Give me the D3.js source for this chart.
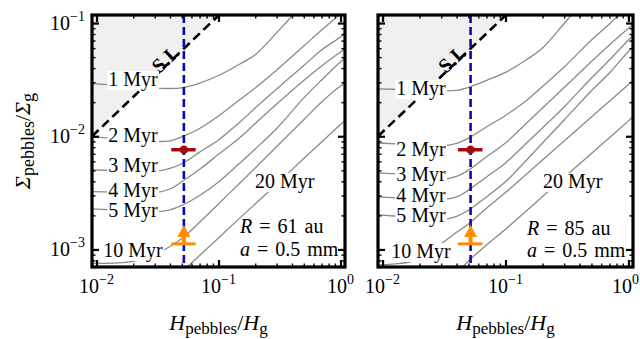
<!DOCTYPE html>
<html>
<head>
<meta charset="utf-8">
<script src="https://cdn.jsdelivr.net/npm/d3@7"></script>
<style>
  body { margin: 0; background: #fff; }
  text { font-family: "Liberation Serif", "Times New Roman", serif; fill: #000; }
</style>
</head>
<body>
<svg id="chart" width="640" height="339"></svg>
<script>
// Pebble scale-height ratio sampled along each contour
const hGrid = [0.0092, 0.02, 0.03, 0.04, 0.05, 0.07, 0.1, 0.15, 0.2, 0.3, 0.4, 0.5, 0.7, 1.0, 1.1];

const contourLabels = ["1 Myr", "2 Myr", "3 Myr", "4 Myr", "5 Myr", "10 Myr", "20 Myr"];

// Sigma_pebbles / Sigma_g on each contour, R = 61 au
const sigmaR61 = [
  [0.0292, 0.0276, 0.0267, 0.0264, 0.0268, 0.0295, 0.0344, 0.0435, 0.0525, 0.0822, 0.1154, 0.1534, null, null, null],
  [0.00986, 0.00933, 0.0090, 0.0091, 0.00986, 0.01172, 0.0151, 0.0211, 0.0267, 0.0385, null, 0.0627, 0.0868, 0.120, null],
  [0.00504, 0.00494, 0.00489, 0.0052, 0.00571, 0.00724, 0.00928, 0.01337, 0.01778, 0.02616, null, 0.0421, 0.0578, 0.0752, 0.0817],
  [0.00324, 0.00319, 0.00317, 0.00342, 0.00396, 0.0051, 0.00692, 0.00976, 0.01297, 0.01928, null, 0.0311, 0.0418, 0.0555, 0.0596],
  [0.00228, 0.00219, 0.00215, 0.00224, 0.00245, 0.0030, 0.00395, 0.00581, 0.00772, 0.01172, null, 0.0218, 0.0314, 0.0453, 0.0491],
  [0.000753, 0.000784, 0.000904, 0.001062, 0.001247, 0.001737, 0.002525, 0.00387, 0.00525, 0.00813, null, 0.014, 0.0201, 0.0278, 0.02955],
  [null, null, null, 0.000507, 0.000633, 0.000886, 0.001264, 0.0019, 0.002525, 0.00379, null, 0.00635, 0.0089, 0.01268, 0.01393]
];

// Sigma_pebbles / Sigma_g on each contour, R = 85 au
const sigmaR85 = [
  [0.02616, 0.02564, 0.02522, 0.02537, 0.02702, 0.0311, 0.03665, 0.0479, 0.0602, 0.0991, 0.1429, null, null, null, null],
  [0.00872, 0.00838, 0.0082, 0.00864, 0.00962, 0.01208, 0.01527, 0.0209, 0.02753, 0.0409, null, 0.0708, 0.098, 0.1443, null],
  [0.00474, 0.00446, 0.00417, 0.00442, 0.00502, 0.00659, 0.00872, 0.01323, 0.01778, 0.02697, null, 0.0457, 0.064, 0.0899, 0.098],
  [0.00291, 0.00279, 0.00275, 0.00291, 0.00334, 0.00437, 0.00581, 0.00881, 0.01184, 0.01814, null, 0.0327, 0.0472, 0.0708, 0.0776],
  [0.00202, 0.0019, 0.00183, 0.00196, 0.00222, 0.00291, 0.00396, 0.00624, 0.00872, 0.01393, null, 0.02522, 0.0362, 0.0561, 0.0614],
  [0.00073, 0.000817, 0.00112, 0.001417, 0.00168, 0.002313, 0.003183, 0.00469, 0.00617, 0.00909, null, 0.0148, 0.0204, 0.0287, 0.0314],
  [null, null, null, 0.000611, 0.000792, 0.001094, 0.001506, 0.00222, 0.00293, 0.00432, null, 0.00704, 0.0097, 0.01367, 0.01496]
];

// Streaming-instability boundary
const siH = [0.0092, 0.101];
const siSigma = [0.0100, 0.1178];

// Measured settling: H range [low, best, high]
const obsH = [0.041, 0.052, 0.065];
const detectedSigma = 0.0076;   // red point
const limitSigma = 0.00112;     // orange lower limit

const radii = ["61", "85"];
const grainSize = "0.5 mm";

const xTickValues = [0.01, 0.1, 1];
const xTickExps = ["\u22122", "\u22121", "0"];
const yTickValues = [0.001, 0.01, 0.1];
const yTickExps = ["\u22123", "\u22122", "\u22121"];

const svg = d3.select("#chart");
const frameTop = 15, frameBottom = 267;

const panels = [
  { x0: 92, x1: 345, sig: sigmaR61, R: radii[0],
    labelCx: 133, labelBase: [86, 142, 172, 197, 217, 257], l20: [255, 188],
    noteX: 240, noteBase: [233, 256] },
  { x0: 378, x1: 633, sig: sigmaR85, R: radii[1],
    labelCx: 421, labelBase: [95, 156, 181, 202, 222, 258], l20: [543, 188],
    noteX: 527, noteBase: [235, 257] }
];

function powLabel(sel, exp) {
  sel.append("tspan").text("10");
  sel.append("tspan").attr("font-size", 14).attr("dy", -9).text(exp);
}

function boxed(g, text, x, yBase, anchor) {
  const t = g.append("text").attr("x", x).attr("y", yBase)
    .attr("font-size", 20).attr("text-anchor", anchor).text(text);
  const b = t.node().getBBox();
  g.insert("rect", function () { return t.node(); })
    .attr("x", b.x - 1).attr("y", b.y + 3).attr("width", b.width + 2).attr("height", b.height - 4)
    .attr("fill", "#fff");
}

panels.forEach((p, pi) => {
  const x = d3.scaleLog().domain([Math.pow(10, -2.037), Math.pow(10, 0.037)]).range([p.x0, p.x1]);
  const y = d3.scaleLog().domain([Math.pow(10, -3.155), Math.pow(10, -0.929)]).range([frameBottom, frameTop]);
  const g = svg.append("g");

  const clipId = "clip" + pi;
  svg.append("clipPath").attr("id", clipId)
    .append("rect").attr("x", p.x0).attr("y", frameTop).attr("width", p.x1 - p.x0).attr("height", frameBottom - frameTop);
  const plot = g.append("g").attr("clip-path", `url(#${clipId})`);

  // region above the streaming-instability line
  const siPts = siH.map((h, i) => [h, siSigma[i]]);
  plot.append("path")
    .datum(siPts)
    .attr("d", d3.area().x(d => x(d[0])).y0(frameTop).y1(d => y(d[1])))
    .attr("fill", "#f0f0f0");

  // time contours
  const line = d3.line().x(d => x(d[0])).y(d => y(d[1])).curve(d3.curveCatmullRom.alpha(0.5));
  p.sig.forEach(arr => {
    const pts = hGrid.map((h, i) => [h, arr[i]]).filter(d => d[1] != null);
    plot.append("path").attr("d", line(pts))
      .attr("fill", "none").attr("stroke", "#8a8a8a").attr("stroke-width", 1.3);
  });

  // streaming-instability line
  plot.append("path").datum(siPts)
    .attr("d", d3.line().x(d => x(d[0])).y(d => y(d[1])))
    .attr("fill", "none").attr("stroke", "#000").attr("stroke-width", 2.6)
    .attr("stroke-dasharray", "9,5");

  // measured scale height
  plot.append("line")
    .attr("x1", x(obsH[1])).attr("x2", x(obsH[1]))
    .attr("y1", frameTop).attr("y2", frameBottom)
    .attr("stroke", "#0a0aa5").attr("stroke-width", 2.6).attr("stroke-dasharray", "8,4");

  // S.I. label along the line
  const a = [x(siH[0]), y(siSigma[0])], b = [x(siH[1]), y(siSigma[1])];
  const ang = Math.atan2(b[1] - a[1], b[0] - a[0]) * 180 / Math.PI;
  const lx = x(0.0385), ly = y(0.0453);
  g.append("text")
    .attr("transform", `translate(${lx},${ly}) rotate(${ang})`)
    .attr("text-anchor", "middle").attr("dy", 3)
    .attr("font-size", 20).attr("font-weight", "bold")
    .attr("font-family", "Liberation Sans, Arial, sans-serif")
    .text("S.I.");

  // contour labels with white backgrounds
  contourLabels.forEach((lab, i) => {
    if (i < 6) boxed(g, lab, p.labelCx, p.labelBase[i], "middle");
    else boxed(g, lab, p.l20[0], p.l20[1], "start");
  });

  // detection with error bar
  const yd = y(detectedSigma);
  g.append("line").attr("x1", x(obsH[0])).attr("x2", x(obsH[2])).attr("y1", yd).attr("y2", yd)
    .attr("stroke", "#a50a0a").attr("stroke-width", 3.5);
  g.append("circle").attr("cx", x(obsH[1])).attr("cy", yd).attr("r", 4.2).attr("fill", "#a50a0a");

  // lower limit with arrow
  const yl = y(limitSigma), xc = x(obsH[1]);
  g.append("line").attr("x1", x(obsH[0])).attr("x2", x(obsH[2])).attr("y1", yl).attr("y2", yl)
    .attr("stroke", "#ff8c00").attr("stroke-width", 3);
  g.append("line").attr("x1", xc).attr("x2", xc).attr("y1", yl).attr("y2", yl - 9)
    .attr("stroke", "#ff8c00").attr("stroke-width", 4);
  g.append("path")
    .attr("d", `M${xc - 6.5},${yl - 7}L${xc + 6.5},${yl - 7}L${xc},${yl - 19}Z`)
    .attr("fill", "#ff8c00");

  // annotation
  const n1 = g.append("text").attr("x", p.noteX).attr("y", p.noteBase[0]).attr("font-size", 20)
    .attr("word-spacing", 2);
  n1.append("tspan").attr("font-style", "italic").text("R");
  n1.append("tspan").text(" = " + p.R + " au");
  const n2 = g.append("text").attr("x", p.noteX).attr("y", p.noteBase[1]).attr("font-size", 20)
    .attr("word-spacing", 2);
  n2.append("tspan").attr("font-style", "italic").text("a");
  n2.append("tspan").text(" = " + grainSize);

  // frame ticks (inward, all four sides)
  const minorX = x.ticks().filter(v => !xTickValues.includes(v));
  const minorY = y.ticks().filter(v => !yTickValues.some(t => Math.abs(t - v) < 1e-12));
  const axes = [
    [d3.axisBottom, x, `translate(0,${frameBottom})`, xTickValues, minorX],
    [d3.axisTop, x, `translate(0,${frameTop})`, xTickValues, minorX],
    [d3.axisLeft, y, `translate(${p.x0},0)`, yTickValues, minorY],
    [d3.axisRight, y, `translate(${p.x1},0)`, yTickValues, minorY]
  ];
  axes.forEach(([fn, sc, tr, major, minor]) => {
    [[major, -7, 2.2], [minor, -3.5, 1.4]].forEach(([vals, size, w]) => {
      const ax = g.append("g").attr("transform", tr)
        .call(fn(sc).tickValues(vals).tickSize(size).tickFormat(""));
      ax.select(".domain").remove();
      ax.selectAll("line").attr("stroke", "#000").attr("stroke-width", w);
    });
  });

  g.append("rect").attr("x", p.x0).attr("y", frameTop).attr("width", p.x1 - p.x0).attr("height", frameBottom - frameTop)
    .attr("fill", "none").attr("stroke", "#000").attr("stroke-width", 3.2);

  // tick labels (kept inside the canvas at the right edge)
  xTickValues.forEach((v, i) => {
    const t = g.append("text").attr("x", x(v)).attr("y", 293).attr("font-size", 20).attr("text-anchor", "middle");
    powLabel(t, xTickExps[i]);
    const bb = t.node().getBBox();
    if (bb.x + bb.width > 639) t.attr("x", x(v) - (bb.x + bb.width - 639));
  });
  if (pi === 0) {
    yTickValues.forEach((v, i) => {
      const t = g.append("text").attr("x", p.x0 - 7).attr("y", y(v) + 6.5).attr("font-size", 20).attr("text-anchor", "end");
      powLabel(t, yTickExps[i]);
    });
  }

  // x-axis title
  const xt = g.append("text").attr("x", (p.x0 + p.x1) / 2).attr("y", 330)
    .attr("font-size", 22).attr("text-anchor", "middle");
  xt.append("tspan").attr("font-style", "italic").text("H");
  xt.append("tspan").attr("font-size", 17).attr("dy", 4).text("pebbles");
  xt.append("tspan").attr("dy", -4).text("/");
  xt.append("tspan").attr("font-style", "italic").text("H");
  xt.append("tspan").attr("font-size", 17).attr("dy", 4).text("g");
});

// y-axis title
const yt = svg.append("text").attr("transform", "translate(30,141) rotate(-90)")
  .attr("font-size", 22).attr("text-anchor", "middle");
yt.append("tspan").attr("font-style", "italic").text("\u03A3");
yt.append("tspan").attr("font-size", 18).attr("dy", 4).text("pebbles");
yt.append("tspan").attr("dy", -4).text("/");
yt.append("tspan").attr("font-style", "italic").text("\u03A3");
yt.append("tspan").attr("font-size", 18).attr("dy", 4).text("g");
</script>
</body>
</html>
